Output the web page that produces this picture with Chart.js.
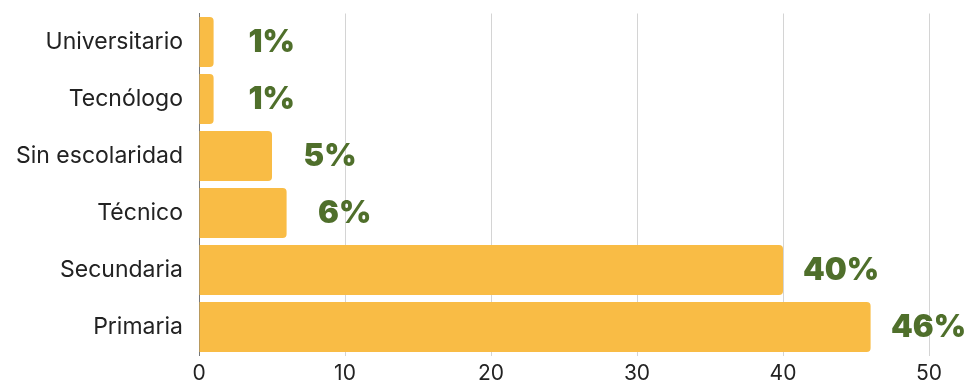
<!DOCTYPE html>
<html><head><meta charset="utf-8">
<script src="https://cdn.jsdelivr.net/npm/chart.js@4/dist/chart.umd.min.js"></script>
<style>html,body{margin:0;padding:0;background:#fff}#w{width:969px;height:382px}</style>
</head><body><div id="w"><canvas id="c"></canvas></div>
<script>
const categories = ["Universitario","Tecnólogo","Sin escolaridad","Técnico","Secundaria","Primaria"];
const values = [1,1,5,6,40,46];
const valueLabels = ["1%","1%","5%","6%","40%","46%"];
const xTicks = [0,10,20,30,40,50];

const labelPlugin = {
  id:'vlabels',
  afterDatasetsDraw(chart){
    const ctx = chart.ctx;
    const meta = chart.getDatasetMeta(0);
    ctx.save();
    ctx.font = '900 31px Inter';
    ctx.fillStyle = '#4f6f2b';
    ctx.textAlign = 'center';
    ctx.textBaseline = 'middle';
    meta.data.forEach((bar,i)=>{
      ctx.fillText(valueLabels[i], bar.x + 58, bar.y + 1);
    });
    ctx.restore();
  }
};

new Chart(document.getElementById('c'),{
  type:'bar',
  data:{labels:categories,datasets:[{data:values,backgroundColor:'#f9bc45',borderRadius:4,borderSkipped:'start',barPercentage:0.88,categoryPercentage:1}]},
  options:{
    indexAxis:'y',responsive:true,maintainAspectRatio:false,animation:false,
    layout:{padding:{top:13.5,right:40,left:0,bottom:0}},
    plugins:{legend:{display:false},tooltip:{enabled:false}},
    scales:{
      x:{min:0,max:50,afterBuildTicks(ax){ax.ticks=xTicks.map(v=>({value:v}));},
        grid:{color:'#d4d4d4',drawTicks:false},border:{display:false},
        ticks:{color:'#222',font:{family:'Inter',size:21},padding:6},
        afterFit(ax){ax.height=26.5;ax.paddingLeft=0;ax.paddingRight=0;}},
      y:{grid:{display:false,drawTicks:false},border:{display:true,color:'#777',width:1},
        ticks:{color:'#222',font:{family:'Inter',size:23},padding:16},
        afterFit(ax){ax.width=199;ax.paddingTop=0;ax.paddingBottom=0;}}
    }
  },
  plugins:[labelPlugin]
});
</script></body></html>
